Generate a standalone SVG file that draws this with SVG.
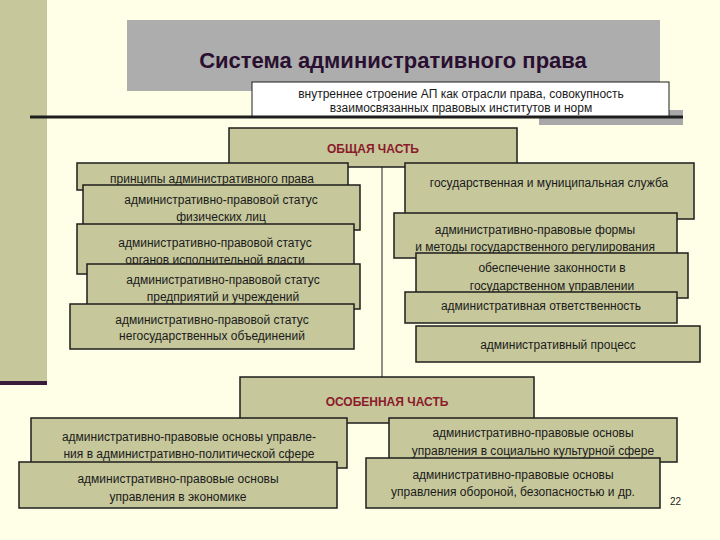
<svg xmlns="http://www.w3.org/2000/svg" width="720" height="540" viewBox="0 0 720 540">
<style>
.b{fill:#C6C79B;stroke:#1e1e1e;stroke-width:1.5}
.t{font-family:"Liberation Sans",Arial,sans-serif;font-size:12px;fill:#1a1a1a;text-anchor:middle}
.h{font-family:"Liberation Sans",Arial,sans-serif;font-size:12px;font-weight:bold;fill:#8B1A2A;text-anchor:middle}
</style>
<rect width="720" height="540" fill="#FFFFE8"/>
<rect x="0" y="0" width="47" height="381" fill="#C6C79B"/>
<rect x="0" y="381" width="47" height="4" fill="#3A1A3A"/>
<g id="title">
<rect x="127" y="20" width="533" height="71" fill="#ADADAD"/>
<text x="393" y="68" font-family="Liberation Sans,Arial,sans-serif" font-size="22" font-weight="bold" fill="#2A1030" text-anchor="middle">Система административного права</text>
</g>
<g id="definition">
<rect x="539" y="110" width="144" height="15" fill="#A8A8A8"/>
<rect x="252" y="82" width="417" height="35" fill="#FFFFFF" stroke="#1e1e1e" stroke-width="1"/>
<text class="t" x="461" y="98">внутреннее строение АП как отрасли права, совокупность</text>
<text class="t" x="461" y="112">взаимосвязанных правовых институтов и норм</text>
</g>
<line x1="30" y1="117" x2="683" y2="117" stroke="#1e1e1e" stroke-width="3"/>
<g id="connectors">
<line x1="382" y1="167" x2="382" y2="377" stroke="#1e1e1e" stroke-width="1"/>
</g>
<g id="general"><rect class="b" x="229" y="128" width="288" height="39"/><text class="h" x="373" y="153">ОБЩАЯ ЧАСТЬ</text></g>
<g id="l1"><rect class="b" x="77" y="163" width="271" height="27"/><text class="t" x="212" y="183">принципы  административного права</text></g>
<g id="l2"><rect class="b" x="83" y="185" width="277" height="45"/><text class="t" x="221" y="204">административно-правовой статус</text><text class="t" x="221" y="221">физических лиц</text></g>
<g id="l3"><rect class="b" x="77" y="224" width="277" height="50"/><text class="t" x="215" y="247">административно-правовой статус</text><text class="t" x="215" y="264">органов исполнительной власти</text></g>
<g id="l4"><rect class="b" x="87" y="264" width="273" height="45"/><text class="t" x="223" y="284">административно-правовой статус</text><text class="t" x="223" y="301">предприятий и учреждений</text></g>
<g id="l5"><rect class="b" x="70" y="304" width="284" height="45"/><text class="t" x="212" y="324">административно-правовой статус</text><text class="t" x="212" y="340">негосударственных объединений</text></g>
<g id="r1"><rect class="b" x="405" y="163" width="289" height="56"/><text class="t" x="549" y="187">государственная и муниципальная служба</text></g>
<g id="r2"><rect class="b" x="394" y="213" width="283" height="45"/><text class="t" x="535" y="234">административно-правовые формы</text><text class="t" x="535" y="251">и методы государственного регулирования</text></g>
<g id="r3"><rect class="b" x="416" y="253" width="272" height="45"/><text class="t" x="552" y="272">обеспечение законности в</text><text class="t" x="552" y="290">государственном управлении</text></g>
<g id="r4"><rect class="b" x="405" y="292" width="272" height="31"/><text class="t" x="541" y="310">административная ответственность</text></g>
<g id="r5"><rect class="b" x="416" y="326" width="284" height="36"/><text class="t" x="558" y="349">административный процесс</text></g>
<g id="special"><rect class="b" x="240" y="377" width="294" height="46"/><text class="h" x="387" y="406">ОСОБЕННАЯ ЧАСТЬ</text></g>
<g id="s1"><rect class="b" x="31" y="418" width="316" height="50"/><text class="t" x="189" y="441">административно-правовые основы управле-</text><text class="t" x="189" y="458">ния в административно-политической сфере</text></g>
<g id="s2"><rect class="b" x="19" y="462" width="318" height="46"/><text class="t" x="178" y="483">административно-правовые основы</text><text class="t" x="178" y="501">управления в экономике</text></g>
<g id="s3"><rect class="b" x="389" y="418" width="288" height="44"/><text class="t" x="533" y="437">административно-правовые основы</text><text class="t" x="533" y="455">управления в социально культурной сфере</text></g>
<g id="s4"><rect class="b" x="366" y="458" width="294" height="50"/><text class="t" x="513" y="479">административно-правовые основы</text><text class="t" x="513" y="496">управления обороной, безопасностью и др.</text></g>
<text x="670" y="505" font-family="Liberation Sans,Arial,sans-serif" font-size="10" fill="#1a1a1a">22</text>
</svg>
